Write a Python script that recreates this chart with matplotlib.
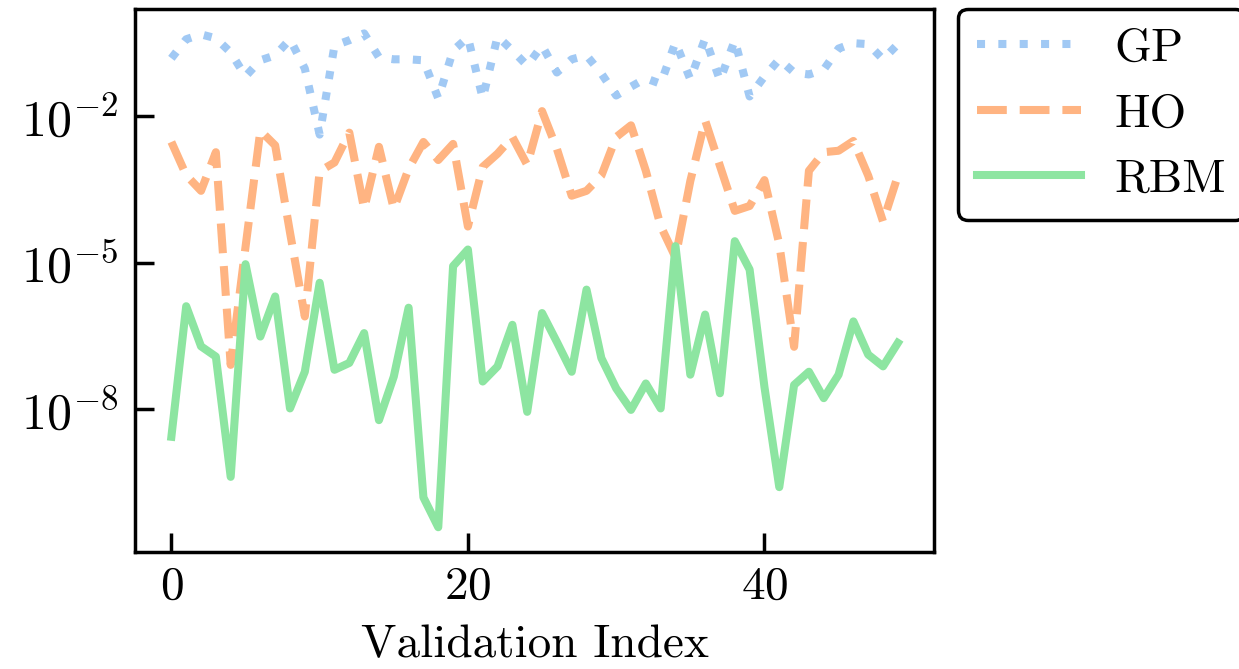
import numpy as np
import matplotlib
matplotlib.use('Agg')
import matplotlib.pyplot as plt

plt.rcParams['font.family'] = ['cmr10', 'DejaVu Serif']
plt.rcParams['mathtext.fontset'] = 'cm'
plt.rcParams['axes.formatter.use_mathtext'] = True
plt.rcParams['font.size'] = 34

# validation index 0..49
idx = np.arange(50)

# log10 of the error for each method
gp_exp = [-0.82, -0.43, -0.33, -0.41, -0.70, -1.19, -0.86, -0.76, -0.43, -1.03,
          -2.38, -0.56, -0.45, -0.31, -0.80, -0.84, -0.84, -0.86, -1.64, -0.66,
          -0.39, -1.64, -0.37, -0.66, -0.97, -0.56, -1.11, -0.84, -0.76, -1.13,
          -1.58, -1.40, -1.23, -1.34, -0.49, -1.25, -0.41, -1.27, -0.45, -1.60,
          -1.19, -0.84, -1.11, -1.15, -1.05, -0.62, -0.51, -0.53, -0.84, -0.53]
ho_exp = [-2.53, -3.21, -3.53, -2.74, -7.09, -4.68, -2.30, -2.60, -4.38, -6.10,
          -3.13, -2.95, -2.34, -3.90, -2.63, -3.90, -3.08, -2.53, -2.90, -2.57,
          -4.26, -3.04, -2.77, -2.43, -3.00, -1.90, -2.67, -3.63, -3.53, -3.22,
          -2.43, -2.19, -3.12, -4.25, -4.89, -3.33, -2.09, -3.02, -3.94, -3.84,
          -3.31, -4.62, -6.72, -3.12, -2.74, -2.71, -2.51, -3.22, -4.16, -3.22]
rbm_exp = [-8.56, -5.89, -6.71, -6.92, -9.38, -5.03, -6.51, -5.69, -7.98, -7.23,
           -5.41, -7.19, -7.05, -6.44, -8.22, -7.33, -5.92, -9.80, -10.41, -5.07,
           -4.73, -7.43, -7.12, -6.27, -8.05, -6.03, -6.62, -7.23, -5.55, -6.95,
           -7.57, -8.01, -7.47, -7.98, -4.66, -7.29, -6.06, -7.67, -4.56, -5.14,
           -7.54, -9.59, -7.50, -7.23, -7.77, -7.29, -6.20, -6.88, -7.12, -6.64]

fig = plt.figure(figsize=(12.39, 6.69), dpi=100)
ax = fig.add_axes([0.109, 0.175, 0.645, 0.812])

lw = 5.8
ax.plot(idx, np.power(10.0, gp_exp), ls=':', lw=lw, color='#a1c9f4', label='GP')
ax.plot(idx, np.power(10.0, ho_exp), ls='--', lw=lw, color='#ffb482', label='HO')
ax.plot(idx, np.power(10.0, rbm_exp), ls='-', lw=lw, color='#8de5a1', label='RBM')

ax.set_yscale('log')
ax.set_yticks([1e-8, 1e-5, 1e-2])
ax.yaxis.set_minor_locator(matplotlib.ticker.NullLocator())
ax.set_xticks([0, 20, 40])
ax.tick_params(direction='in', length=14, width=2.5, pad=10)
ax.tick_params(axis='y', labelsize=36, pad=12)
for s in ax.spines.values():
    s.set_linewidth(2.5)

ax.set_xlabel('Validation Index', labelpad=12)

leg = ax.legend(loc='upper left', bbox_to_anchor=(1.03, 1.0), borderaxespad=0,
                handlelength=2.2, handletextpad=0.7, framealpha=1, fancybox=True)
leg.get_frame().set_edgecolor('black')
leg.get_frame().set_linewidth(2.5)

fig.savefig('out.png', dpi=100)
